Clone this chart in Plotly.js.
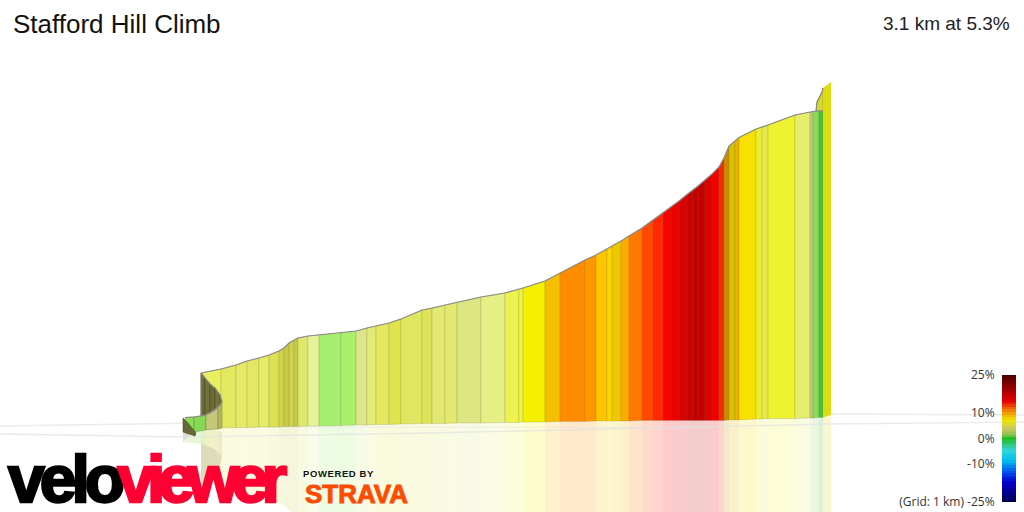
<!DOCTYPE html>
<html><head><meta charset="utf-8">
<script src="https://cdn.plot.ly/plotly-3.0.1.min.js"></script>
<style>
html,body{margin:0;padding:0;background:#fff;overflow:hidden}
#chart{width:1024px;height:512px}
.annotation[data-index="0"] text{letter-spacing:-5px;stroke:#000;stroke-width:2.4px}
.annotation[data-index="1"] text{letter-spacing:-7.2px;stroke:#ff0033;stroke-width:2.4px}
.annotation[data-index="2"] text{letter-spacing:.6px}
.annotation[data-index="3"] text{stroke:#fc4c02;stroke-width:.9px}
</style></head><body><div id="chart"></div>
<script>
const titleText = "Stafford Hill Climb";
const summaryText = "3.1 km at 5.3%";

// Profile, sampled at every gradient change
const dist = [201,221,236,247,259,269,279,284,289,294,298,308,319,341,356,367,376,389,401,422,432,445,457,481,505,519,523,545,560,585,596,607,612,621,629,642,653,663,671,679,687,693,698,705,712,719,724,729,735,739,756,762,768,795,810,813,819,823];
const elevTop = [139,143,147,151,154,157,161,164,169,172,174,176,177,179,181,184,186,189,193,202,204,207,210,215,219,222.5,224,231,239,252,257,263,266,271,276,284,292,299,305,311,317.5,322,326,332,338,345,354,366,371,374.5,383,385,387,397,400,400.5,401,401];
const elevBase = [84,84,84.5,84.5,85,85,85,85.5,85.5,85.5,85.5,86,86,86.5,87,87,87.5,87.5,88,88.5,88.5,88.5,89,89,89.5,89.5,90,90,90.5,90.5,91,91,91,91,91,91.5,91.5,91.5,91.5,91.5,91.5,91.5,91.5,91.5,91.5,91.5,91.5,92,92,92,93,93,93.5,93.5,94,94,94.5,94.5];
const segColors = ["#e9f060","#e2e860","#e5ea66","#e3e765","#e6ec6a","#dde055","#d2d44a","#c8cb45","#cfd24e","#c6cc4a","#dde86c","#e6f29a","#a6ee70","#aaf06e","#dde68a","#e4ea78","#e4e860","#dfe44e","#dfe660","#dfe35a","#e2e870","#e3e970","#dde682","#e4ef84","#edf24e","#f0f544","#f4f000","#f5be00","#ff8c00","#ff9800","#ffc400","#f8d800","#f0c800","#ffa800","#ff7800","#ff4800","#ff2800","#ff0000","#ee0000","#dd0000","#cc0000","#c00000","#c40000","#dd0000","#f00000","#f03000","#cc8a00","#d8c000","#f0b000","#f8e000","#eeee30","#e6e850","#eef230","#e6ee70","#c4c87a","#80de58","#4cc038"];

// Switchback at the start of the climb
const wallDist = [201,205,210,215,220,222];
const wallTop = [139,134,128,124,117,110];
const wallBase = [96,97,99,102,107,110];
const wallColors = ["#6c6c36","#70703a","#6c6c36","#74743c","#7c7c44"];
const stripDist = [185,194,206,218,222];
const stripTop = [94.5,95,97,105,110];
const stripBase = [92,80,82,83,84];
const stripColors = ["#8cdc58","#88d858","#c4c878","#b0b868"];
const cornerDist = [183,183,195,196,187,183];
const cornerElev = [94,80,76,79,90,94];
const cornerColor = "#66683a";

// Final kick
const kickDist = [816,817,822,823,823,816];
const kickElev = [401,410,420,424,401,401];
const kickColor = "#d6d82c";
const lastDist = [823,831];
const lastTop = [424,430];
const lastBase = [94.5,97];
const lastColor = "#dcdc10";

// Faint ground grid
const gridADist = [0,183,830,1024];
const gridAElev = [86,88.7,98,97];
const gridBDist = [0,183,430,830,1024];
const gridBElev = [78,75,79,88,90];
const gridCDist = [200,700];
const gridCElev = [85,84.5];

// Gradient key
const legendGrades = [-25,-24,-23,-22,-21,-20,-19,-18,-17,-16,-15,-14,-13,-12,-11,-10,-9,-8,-7,-6,-5,-4,-3,-2,-1,0,1,2,3,4,5,6,7,8,9,10,11,12,13,14,15,16,17,18,19,20,21,22,23,24,25];
const legendTicks = [25,10,0,-10,-25];
const legendLabels = ["25%","10%","0%","-10%","(Grid: 1 km) -25%"];
const gradeScale = [[0,"#000050"],[.08,"#000090"],[.16,"#0000d0"],[.24,"#0050f0"],[.32,"#00b8f0"],[.41,"#30d8d8"],[.448,"#30c890"],[.5,"#20c020"],[.528,"#90c050"],[.58,"#c8c860"],[.646,"#f0e800"],[.70,"#f0a000"],[.74,"#f06000"],[.79,"#e80000"],[.908,"#900000"],[1,"#4a0000"]];

const mirrorElev = 82;
const edge = "rgba(110,110,40,.2)";
function poly(x, y, color, opts){
  opts = opts || {};
  return {type:"scatter", mode:"lines", x:x, y:y, fill:"toself", fillcolor:color,
    opacity:opts.opacity===undefined?1:opts.opacity,
    line:{width:opts.width===undefined?1:opts.width,color:opts.edge||edge},
    hoverinfo:"skip", showlegend:false};
}
function line(x, y, color, width){
  return {type:"scatter", mode:"lines", x:x, y:y, line:{color:color,width:width}, hoverinfo:"skip", showlegend:false};
}
function column(xs, tops, bases, colors, i){
  return {x:[xs[i],xs[i+1],xs[i+1],xs[i],xs[i]], y:[bases[i],bases[i+1],tops[i+1],tops[i],bases[i]], c:colors[i]};
}
const traces = [];
traces.push(line(gridADist, gridAElev, "#ebebeb", 1.5));

// Reflections
const refl = 0.2;
segColors.forEach((c,i)=>{
  const p = column(dist, elevTop, elevBase, segColors, i);
  const by = [elevBase[i],elevBase[i+1],2*elevBase[i+1]-elevTop[i+1],2*elevBase[i]-elevTop[i],elevBase[i]];
  traces.push(poly(p.x, by, c, {opacity:refl,width:0}));
});
traces.push(poly([lastDist[0],lastDist[1],lastDist[1],lastDist[0],lastDist[0]],
  [lastBase[0],lastBase[1],2*lastBase[1]-lastTop[1],2*lastBase[0]-lastTop[0],lastBase[0]], lastColor, {opacity:refl,width:0}));
wallColors.forEach((c,i)=>{
  const p = column(wallDist, wallTop, wallBase, wallColors, i);
  traces.push(poly(p.x, p.y.map(v=>2*mirrorElev-v), c, {opacity:.22,width:0}));
});
stripColors.forEach((c,i)=>{
  const p = column(stripDist, stripTop, stripBase, stripColors, i);
  traces.push(poly(p.x, p.y.map(v=>2*mirrorElev-v), c, {opacity:.22,width:0}));
});
traces.push(poly(cornerDist, cornerElev.map(v=>2*mirrorElev-v), cornerColor, {opacity:.22,width:0}));
traces.push(line(gridBDist, gridBElev, "rgba(225,225,225,.7)", 1.3));
traces.push(line(gridCDist, gridCElev, "rgba(225,225,225,.5)", 1));

// Climb
traces.push(poly(kickDist, kickElev, kickColor, {edge:"rgba(120,120,40,.4)"}));
segColors.forEach((c,i)=>{
  const p = column(dist, elevTop, elevBase, segColors, i);
  traces.push(poly(p.x, p.y, c));
});
const last = column(lastDist, lastTop, lastBase, [lastColor], 0);
traces.push(poly(last.x, last.y, lastColor, {width:0}));
wallColors.forEach((c,i)=>{
  const p = column(wallDist, wallTop, wallBase, wallColors, i);
  traces.push(poly(p.x, p.y, c, {edge:"rgba(60,60,20,.4)"}));
});
stripColors.forEach((c,i)=>{
  const p = column(stripDist, stripTop, stripBase, stripColors, i);
  traces.push(poly(p.x, p.y, c, {edge:"rgba(90,90,30,.3)"}));
});
traces.push(poly(cornerDist, cornerElev, cornerColor, {edge:"rgba(60,60,20,.5)"}));

// Road outline
const grey = "#8a8a8a";
traces.push(line(dist, elevTop, grey, 1.2));
traces.push(line(wallDist, wallTop, grey, 1.2));
traces.push(line([wallDist[0],wallDist[0]], [wallBase[0],wallTop[0]], grey, 1));
traces.push(line(wallDist.slice().reverse(), wallBase.slice().reverse(), grey, 1.2));
traces.push(line(stripDist, stripTop, grey, 1));
traces.push(line(kickDist.slice(0,4), kickElev.slice(0,4), grey, 1.2));

// Gradient key
traces.push({type:"heatmap", x:[0], y:legendGrades, z:legendGrades.map(g=>[g]), xaxis:"x2", yaxis:"y2",
  colorscale:gradeScale, zmin:-25, zmax:25, showscale:false, hoverinfo:"skip"});

const layout = {
  width:1024, height:512, paper_bgcolor:"#fff", plot_bgcolor:"rgba(0,0,0,0)", showlegend:false,
  margin:{l:0,r:0,t:0,b:0},
  title:{text:titleText, x:13/1024, xanchor:"left", y:1-24/512, yanchor:"middle",
    font:{family:"Liberation Sans",size:26,color:"#111"}},
  xaxis:{range:[0,1024],domain:[0,1],visible:false,fixedrange:true},
  yaxis:{range:[0,512],domain:[0,1],visible:false,fixedrange:true},
  xaxis2:{domain:[1002/1024,1016/1024],range:[-.5,.5],visible:false,fixedrange:true,anchor:"y2"},
  yaxis2:{domain:[10/512,137/512],range:[-25,25],anchor:"x2",side:"left",fixedrange:true,
    tickmode:"array",tickvals:legendTicks,ticktext:legendLabels,showgrid:false,zeroline:false,showline:false,
    ticks:"outside",ticklen:4,tickcolor:"rgba(0,0,0,0)",
    tickfont:{family:"Open Sans",size:12,color:"#333"}},
  annotations:[
    {text:"velo",xref:"x",yref:"y",x:0,xshift:-4,y:33,xanchor:"left",yanchor:"middle",showarrow:false,
      font:{family:"Liberation Sans",size:66,weight:700,color:"#000"}},
    {text:"viewer",xref:"x",yref:"y",x:94,y:33,xanchor:"left",yanchor:"middle",showarrow:false,
      font:{family:"Liberation Sans",size:66,weight:700,color:"#ff0033"}},
    {text:"POWERED BY",xref:"x",yref:"y",x:304,y:39,xanchor:"left",yanchor:"middle",showarrow:false,
      font:{family:"Liberation Sans",size:9.5,weight:700,color:"#111"}},
    {text:"STRAVA",xref:"x",yref:"y",x:303,y:18,xanchor:"left",yanchor:"middle",showarrow:false,
      font:{family:"Liberation Sans",size:26,weight:700,color:"#fc4c02"}},
    {text:summaryText,xref:"x",yref:"y",x:1012,y:489,xanchor:"right",yanchor:"middle",showarrow:false,
      font:{family:"Liberation Sans",size:19,color:"#222"}}
  ]
};
Plotly.newPlot("chart", traces, layout, {staticPlot:true, displayModeBar:false});
</script></body></html>
